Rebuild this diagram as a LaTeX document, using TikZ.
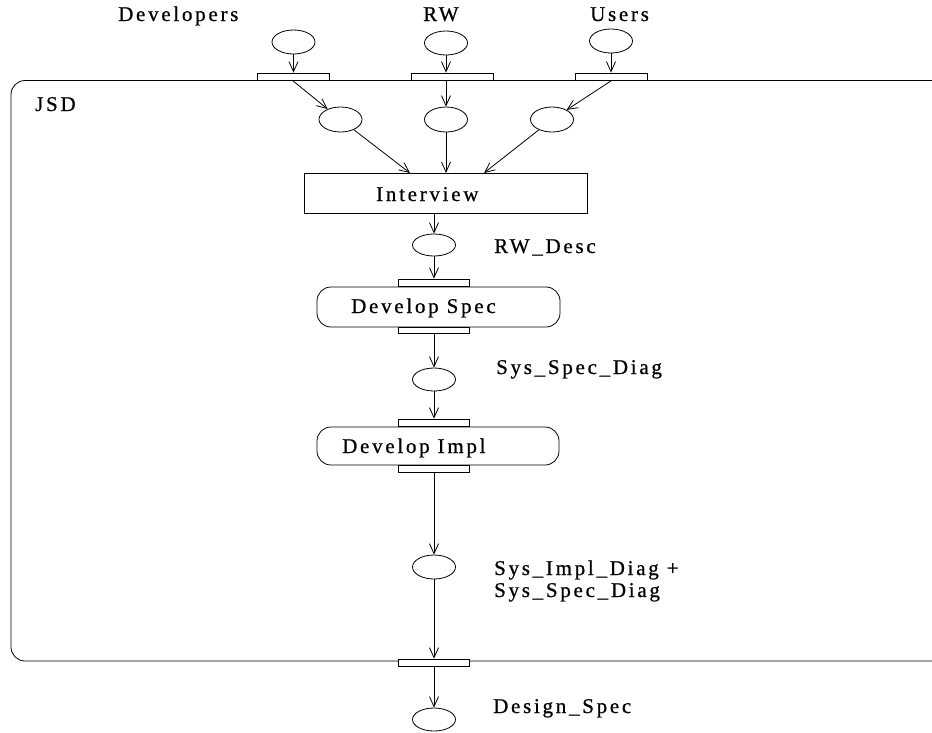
\documentclass[tikz,border=0pt]{standalone}
\usepackage{fontspec}
\setmainfont{Liberation Serif}[LetterSpace=13,FakeBold=0.7]
\usetikzlibrary{arrows.meta,shapes.geometric}
\begin{document}
\begin{tikzpicture}[x=1pt,y=-1pt,
  lw/.style={line width=0.8pt},
  place/.style={ellipse,draw,lw,minimum width=43pt,minimum height=24pt,inner sep=0pt},
  bar/.style={rectangle,draw,lw,fill=white,inner sep=0pt,minimum height=7pt},
  proc/.style={rectangle,draw,lw,inner sep=0pt},
  lbl/.style={anchor=base west,inner sep=0pt,font=\fontsize{21}{23}\selectfont},
  arr/.style={lw,-{Straight Barb[length=10pt,width=9pt]}},
]
\useasboundingbox (0,0) rectangle (932,732);
\clip (0,0) rectangle (932,732);

% outer JSD boundary (extends beyond the right edge)
\draw[lw,rounded corners=14pt] (11,80.5) rectangle (946,661);
\node[lbl] (jsd) at (35,111) {JSD};

% top places
\node[place] (d1) at (293.5,42) {};
\node[place] (d2) at (446,43) {};
\node[place] (d3) at (611,41) {};
\node[lbl] (tdev) at (118,21) {Developers};
\node[lbl] (trw) at (423,21) {RW};
\node[lbl] (tusr) at (590,21) {Users};

% top bars
\node[bar,minimum width=72pt,minimum height=7.5pt] (b1) at (293,76.75) {};
\node[bar,minimum width=82pt,minimum height=7.5pt] (b2) at (452,76.75) {};
\node[bar,minimum width=72pt,minimum height=7.5pt] (b3) at (611,76.75) {};

\draw[arr] (d1.south) -- (d1.south |- b1.north);
\draw[arr] (d2.south) -- (d2.south |- b2.north);
\draw[arr] (d3.south) -- (d3.south |- b3.north);

% inner places
\node[place,minimum height=25pt] (e1) at (340.5,119.5) {};
\node[place,minimum height=25pt] (e2) at (446,119.5) {};
\node[place,minimum height=25pt] (e3) at (552,119.5) {};

\draw[arr] (b1.south) -- (e1);
\draw[arr] (b2.south -| e2.north) -- (e2.north);
\draw[arr] (b3.south) -- (e3);

% Interview
\node[proc,minimum width=283pt,minimum height=40pt] (iv) at (445.5,193) {};
\node[lbl] (tiv) at (376,201) {Interview};
\coordinate (i1) at (410,173);
\coordinate (i2) at (446,173);
\coordinate (i3) at (484,173);
\draw[arr] (e1) -- (i1);
\draw[arr] (e2.south) -- (i2);
\draw[arr] (e3) -- (i3);

% RW_Desc
\node[place,minimum height=22pt] (rwd) at (434,245) {};
\node[lbl] (trwd) at (494,253) {RW\_Desc};
\draw[arr] (rwd |- iv.south) -- (rwd.north);

% Develop Spec
\node[proc,rounded corners=14pt,minimum width=243pt,minimum height=40pt] (ds) at (438.5,307) {};
\node[bar,minimum width=71pt,minimum height=7.5pt] (bs1) at (434,282.75) {};
\node[bar,minimum width=71pt,minimum height=6pt] (bs2) at (434,330) {};
\node[lbl] (tds) at (351,313) {Develop Spec};
\draw[arr] (rwd.south) -- (bs1.north);

% Sys_Spec_Diag
\node[place,minimum height=23pt] (ssd) at (434,379.5) {};
\node[lbl] (tssd) at (496,374) {Sys\_Spec\_Diag};
\draw[arr] (bs2.south) -- (ssd.north);

% Develop Impl
\node[proc,rounded corners=14pt,minimum width=242pt,minimum height=38pt] (di) at (438,446) {};
\node[bar,minimum width=71pt,minimum height=7pt] (bi1) at (434,422.5) {};
\node[bar,minimum width=71pt,minimum height=7pt] (bi2) at (434,468.5) {};
\node[lbl] (tdi) at (342,453) {Develop Impl};
\draw[arr] (ssd.south) -- (bi1.north);

% Sys_Impl_Diag + Sys_Spec_Diag
\node[place] (sid) at (434,567) {};
\node[lbl] (tsid1) at (494,575) {Sys\_Impl\_Diag +};
\node[lbl] (tsid2) at (494,597) {Sys\_Spec\_Diag};
\draw[arr] (bi2.south) -- (sid.north);

% bottom bar and Design_Spec
\node[bar,minimum width=71pt,minimum height=7pt] (bb) at (434,662.5) {};
\draw[arr] (sid.south) -- (bb.north);
\node[place,minimum height=23pt] (dsp) at (434,719.5) {};
\node[lbl] (tdsp) at (493,713) {Design\_Spec};
\draw[arr] (bb.south) -- (dsp.north);
\end{tikzpicture}
\end{document}
